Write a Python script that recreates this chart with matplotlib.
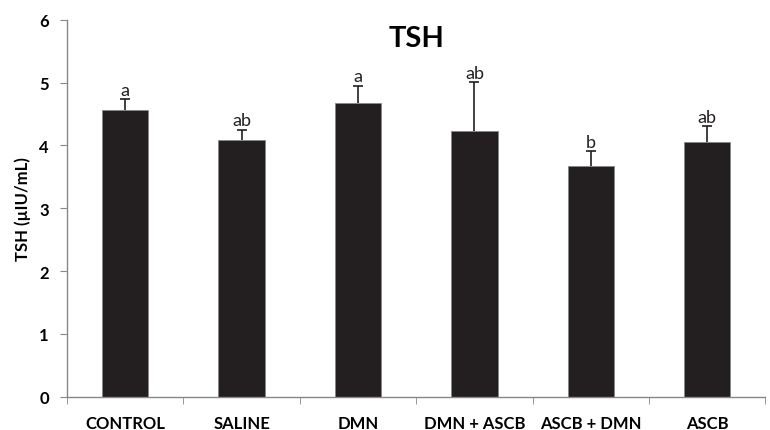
import numpy as np
import matplotlib.pyplot as plt

groups = ['CONTROL', 'SALINE', 'DMN', 'DMN + ASCB', 'ASCB + DMN', 'ASCB']
tsh_mean = [4.57, 4.08, 4.67, 4.23, 3.68, 4.05]
tsh_sem = [0.17, 0.17, 0.28, 0.78, 0.23, 0.26]
letters = ['a', 'ab', 'a', 'ab', 'b', 'ab']

plt.rcParams['font.family'] = ['Lato', 'DejaVu Sans']

fig = plt.figure(figsize=(7.7, 4.31), dpi=100)
ax = fig.add_axes([0.087, 0.077, 0.907, 0.875])

x = np.arange(len(groups))
top = np.array(tsh_mean) + np.array(tsh_sem)
ax.bar(x, tsh_mean, width=0.4, color='#231f20', edgecolor='#888888', linewidth=0.6, zorder=2)
# upper-only error bars: stem from bar top plus a cap
ax.vlines(x, tsh_mean, top, color='#231f20', linewidth=1.2, zorder=3)
ax.scatter(x, top, marker='_', s=60, color='#231f20', linewidths=1.2, zorder=3)

for xi, t, lab in zip(x, top, letters):
    ax.text(xi, t + 0.02, lab, ha='center', va='bottom', fontsize=13, color='#231f20')

ax.set_xlim(-0.5, len(groups) - 0.5)
ax.set_ylim(0, 6)
ax.set_yticks(range(0, 7))
ax.set_yticklabels([str(v) for v in range(0, 7)], fontsize=12, fontweight='bold')
ax.set_xticks(x)
ax.set_xticklabels(groups, fontsize=12, fontweight='bold')
ax.set_xticks(np.arange(-0.5, len(groups)), minor=True)
ax.tick_params(axis='x', which='major', length=0, pad=13)
ax.tick_params(axis='x', which='minor', length=5, color='#888888', direction='out')
ax.tick_params(axis='y', length=5, color='#888888', direction='out', pad=8)

for side in ['top', 'right']:
    ax.spines[side].set_visible(False)
for side in ['left', 'bottom']:
    ax.spines[side].set_color('#888888')
    ax.spines[side].set_linewidth(1.0)

ax.set_ylabel('TSH (µIU/mL)', fontsize=12, fontweight='bold', labelpad=6)
ax.set_title('TSH', fontsize=21, fontweight='bold', y=0.908)

fig.savefig('out.png', dpi=100)
